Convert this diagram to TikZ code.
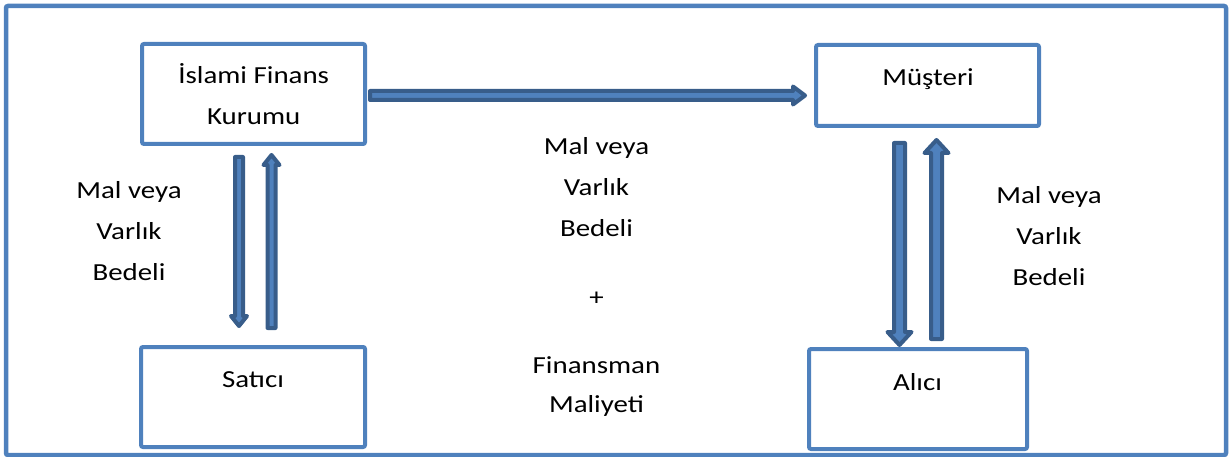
\documentclass[tikz,border=0pt]{standalone}
\usepackage{fontspec}
\setmainfont{Carlito}[FakeStretch=1.18]
\usetikzlibrary{calc}

\definecolor{boxblue}{RGB}{79,129,189}
\definecolor{arrowdark}{RGB}{56,93,138}

% Block arrow from #1 to #2: half shaft width #3, half head width #4, head length #5
\newcommand\blkarrow[5]{%
  \coordinate (ahead) at ($(#2)!#5!(#1)$);
  \filldraw[barrow] ($(#1)!#3!90:(#2)$) -- ($(ahead)!#3!90:(#2)$)
    -- ($(ahead)!#4!90:(#2)$) -- (#2) -- ($(ahead)!#4!-90:(#2)$)
    -- ($(ahead)!#3!-90:(#2)$) -- ($(#1)!#3!-90:(#2)$) -- cycle;
}

\tikzset{
  box/.style={draw=boxblue, line width=4pt, rounded corners=2pt,
    inner sep=0pt, outer sep=0pt, minimum width=223pt, minimum height=100pt},
  txt/.style={font=\fontsize{24.5}{41}\selectfont, align=center,
    inner sep=0pt, anchor=base},
  barrow/.style={fill=boxblue, draw=arrowdark, line width=4pt, line join=round},
  frame/.style={draw=boxblue, line width=4.5pt, rounded corners=2pt},
}

\begin{document}
\begin{tikzpicture}[x=1pt, y=-1pt]
  \useasboundingbox (0,0) rectangle (1229,457);
  \draw[frame] (6,6) rectangle (1226,455);

  % boxes
  \node[box] (kurum) at (253.5,94) {};
  \node[box, minimum height=81pt] (musteri) at (927.5,85.5) {};
  \node[box, minimum width=224pt] (satici) at (253,397) {};
  \node[box, minimum width=218pt] (alici) at (918,399) {};

  % box captions (anchor base sits on the last line)
  \node[txt] (kurumtxt) at ($(kurum.north)+(0.2,81)$) {İslami Finans\\Kurumu};
  \node[txt] (musteritxt) at ($(musteri.north)+(0.5,41)$) {Müşteri};
  \node[txt] (saticitxt) at ($(satici.north)+(0,40)$) {Satıcı};
  \node[txt] (alicitxt) at ($(alici.north)+(-0.5,41)$) {Alıcı};

  % side and middle labels
  \node[txt] (soltxt) at (129,280) {Mal veya\\Varlık\\Bedeli};
  \node[txt] (ortatxt) at (596.5,412) {Mal veya\\Varlık\\Bedeli\\[28pt]+\\[27pt]Finansman\\[-2pt]Maliyeti};
  \node[txt] (sagtxt) at (1049,285) {Mal veya\\Varlık\\Bedeli};

  % arrow end points
  \coordinate (k2m1) at ($(kurum.east)+(5,1.5)$);
  \coordinate (k2m2) at ($(musteri.west)+(-11,10)$);
  \coordinate (k2s1) at ($(kurum.south)+(-14.5,13)$);
  \coordinate (k2s2) at ($(satici.north)+(-14,-21)$);
  \coordinate (s2k1) at ($(satici.north)+(18.5,-19)$);
  \coordinate (s2k2) at ($(kurum.south)+(18,11)$);
  \coordinate (m2a1) at ($(musteri.south)+(-28,17)$);
  \coordinate (m2a2) at ($(alici.north)+(-18.5,-4)$);
  \coordinate (a2m1) at ($(alici.north)+(18.5,-10)$);
  \coordinate (a2m2) at ($(musteri.south)+(9,14)$);

  % arrows
  \blkarrow{k2m1}{k2m2}{4.5pt}{9pt}{12pt}
  \blkarrow{k2s1}{k2s2}{4pt}{8pt}{10pt}
  \blkarrow{s2k1}{s2k2}{4pt}{8pt}{10pt}
  \blkarrow{m2a1}{m2a2}{5.5pt}{12pt}{13pt}
  \blkarrow{a2m1}{a2m2}{5.5pt}{12pt}{13pt}
\end{tikzpicture}
\end{document}
